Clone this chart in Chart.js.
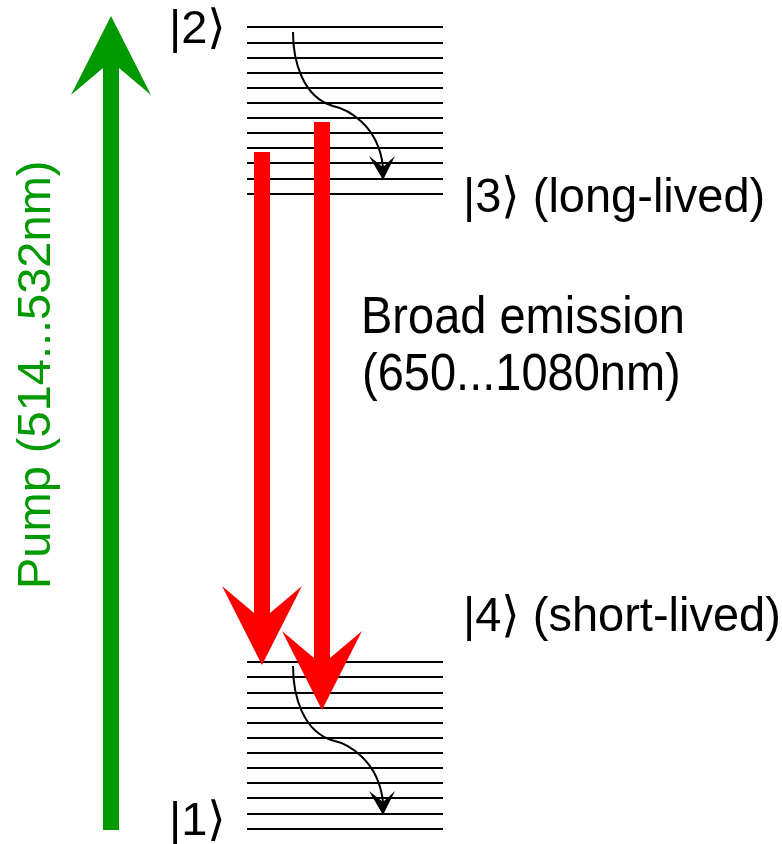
<!DOCTYPE html>
<html>
<head>
<meta charset="utf-8">
<script src="https://cdn.jsdelivr.net/npm/chart.js@4"></script>
<style>
  html, body { margin: 0; padding: 0; background: #fff; }
  canvas { display: block; }
</style>
</head>
<body>
<canvas id="levelChart" width="782" height="844"></canvas>
<script>
// energy levels (diagram units, bottom = 0)
const upperLevels = [817, 801, 786, 771, 756, 741, 726, 711, 696, 681, 665, 650];
const lowerLevels = [182, 167, 151, 136, 121, 106, 91, 76, 61, 46, 30, 15];
const levelSpan = [247, 443];

// pump + emission transitions
const transitionX = [111, 262, 322];
const transitionFrom = [14, 692, 722];
const transitionTo = [828, 179, 134];
const transitionColors = ['#009900', '#ff0000', '#ff0000'];

// non-radiative relaxation inside each band
const relaxStart = [[293, 812], [293, 178]];
const relaxEnd = [[383, 664], [383, 29]];

// text
const labelTexts = ['|2\u27E9', '|1\u27E9', '|3\u27E9 (long-lived)', '|4\u27E9 (short-lived)', 'Broad emission', '(650...1080nm)'];
const labelX = [169, 169, 463, 463, 361, 362];
const labelY = [801, 9, 632, 213, 511, 454];
const labelStretch = [1, 1, 1.04, 1.04, 1.12, 1.12];
const pumpLabel = 'Pump (514...532nm)';
const pumpLabelPos = [50, 255];

const FONT = '47px "Liberation Sans", "DejaVu Sans", sans-serif';

function levelDatasets(levels) {
    return levels.map(e => ({
        data: [{ x: levelSpan[0], y: e }, { x: levelSpan[1], y: e }],
        showLine: true,
        borderColor: '#000',
        borderWidth: 2,
        pointRadius: 0,
        fill: false
    }));
}

function drawBigArrow(ctx, xs, ys, x, from, to, color) {
    const px = xs.getPixelForValue(x);
    const p0 = ys.getPixelForValue(from);
    const p1 = ys.getPixelForValue(to);
    const dir = p1 > p0 ? 1 : -1;
    const half = 8, headHalf = 40, headLen = 79, notch = 52;
    ctx.save();
    ctx.fillStyle = color;
    ctx.beginPath();
    ctx.moveTo(px - half, p0);
    ctx.lineTo(px - half, p1 - dir * notch);
    ctx.lineTo(px - headHalf, p1 - dir * headLen);
    ctx.lineTo(px, p1);
    ctx.lineTo(px + headHalf, p1 - dir * headLen);
    ctx.lineTo(px + half, p1 - dir * notch);
    ctx.lineTo(px + half, p0);
    ctx.closePath();
    ctx.fill();
    ctx.restore();
}

function drawRelaxArrow(ctx, xs, ys, start, end) {
    const x0 = xs.getPixelForValue(start[0]), y0 = ys.getPixelForValue(start[1]);
    const x1 = xs.getPixelForValue(end[0]), y1 = ys.getPixelForValue(end[1]);
    const dx = x1 - x0, dy = y1 - y0;
    const mx = x0 + 0.444 * dx, my = y0 + 0.5 * dy;
    const ey = y1 - 13;
    ctx.save();
    ctx.strokeStyle = '#000';
    ctx.lineWidth = 2;
    ctx.beginPath();
    ctx.moveTo(x0, y0);
    ctx.bezierCurveTo(x0, y0 + 0.2 * dy, x0 + 0.11 * dx, y0 + 0.44 * dy, mx, my);
    ctx.bezierCurveTo(x0 + 0.6 * dx, y0 + 0.52 * dy, x0 + 0.95 * dx, y0 + 0.628 * dy, x1, ey);
    ctx.stroke();
    ctx.fillStyle = '#000';
    ctx.beginPath();
    ctx.moveTo(x1, y1);
    ctx.lineTo(x1 - 14, y1 - 24);
    ctx.lineTo(x1, ey);
    ctx.lineTo(x1 + 12, y1 - 24);
    ctx.closePath();
    ctx.fill();
    ctx.restore();
}

const diagramPlugin = {
    id: 'diagram',
    afterDatasetsDraw(chart) {
        const ctx = chart.ctx;
        const xs = chart.scales.x, ys = chart.scales.y;

        transitionX.forEach((x, i) => {
            drawBigArrow(ctx, xs, ys, x, transitionFrom[i], transitionTo[i], transitionColors[i]);
        });
        relaxStart.forEach((s, i) => drawRelaxArrow(ctx, xs, ys, s, relaxEnd[i]));

        ctx.save();
        ctx.font = FONT;
        ctx.fillStyle = '#000';
        ctx.textBaseline = 'alphabetic';
        ctx.textAlign = 'left';
        labelTexts.forEach((t, i) => {
            ctx.save();
            ctx.translate(xs.getPixelForValue(labelX[i]), ys.getPixelForValue(labelY[i]));
            ctx.scale(1, labelStretch[i]);
            ctx.fillText(t, 0, 0);
            ctx.restore();
        });
        ctx.translate(xs.getPixelForValue(pumpLabelPos[0]), ys.getPixelForValue(pumpLabelPos[1]));
        ctx.rotate(-Math.PI / 2);
        ctx.fillStyle = '#009900';
        ctx.fillText(pumpLabel, 0, 0);
        ctx.restore();
    }
};

const ctx = document.getElementById('levelChart').getContext('2d');
const levelChart = new Chart(ctx, {
    type: 'scatter',
    data: {
        datasets: [...levelDatasets(upperLevels), ...levelDatasets(lowerLevels)]
    },
    options: {
        responsive: false,
        animation: false,
        layout: { padding: 0 },
        plugins: {
            legend: { display: false },
            tooltip: { enabled: false }
        },
        scales: {
            x: { type: 'linear', min: 0, max: 782, display: false },
            y: { type: 'linear', min: 0, max: 844, display: false }
        }
    },
    plugins: [diagramPlugin]
});
</script>
</body>
</html>
